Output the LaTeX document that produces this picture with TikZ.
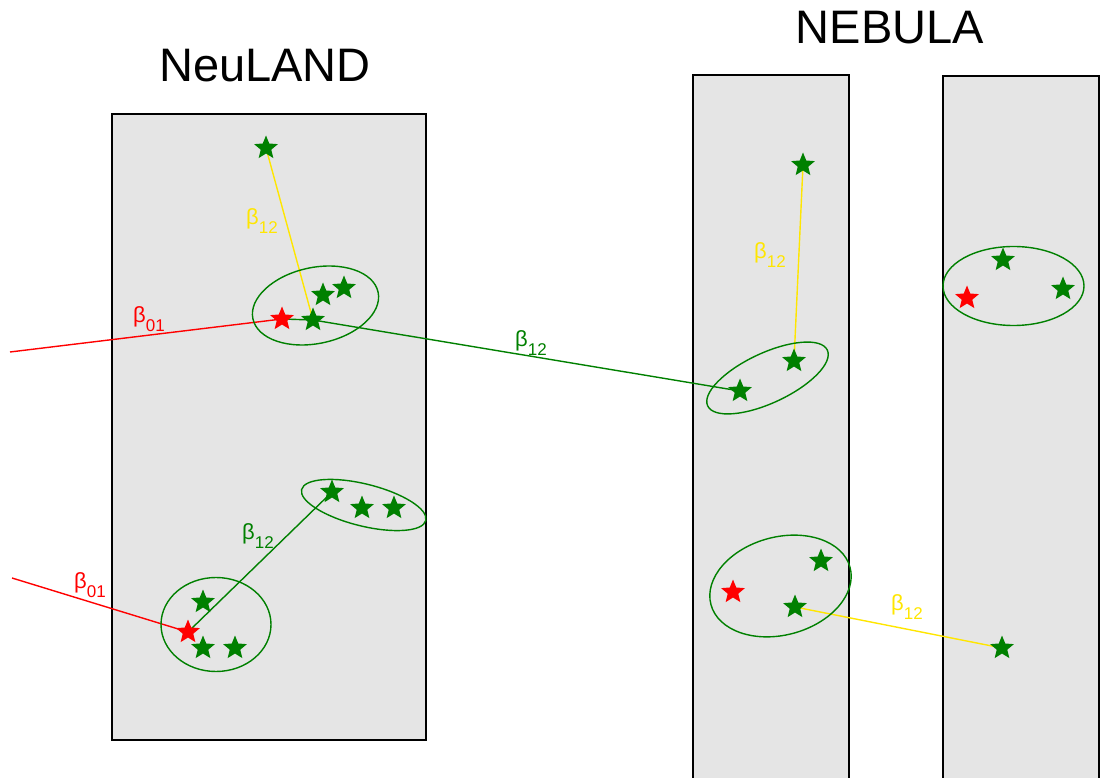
\documentclass[tikz,border=0pt]{standalone}
\usepackage{fontspec}
\setmainfont{Liberation Sans}
\usetikzlibrary{shapes.geometric}
\definecolor{dgreen}{RGB}{0,128,0}
\definecolor{ylw}{RGB}{255,230,0}
\definecolor{boxgray}{RGB}{229,229,229}
\pgfdeclarelayer{bg}
\pgfdeclarelayer{lines}
\pgfsetlayers{bg,lines,main}
\newcommand\bet[1]{\fontsize{22}{22}\selectfont β\raisebox{-8.5pt}{\fontsize{17}{17}\selectfont #1}}
\tikzset{
  detbox/.style={draw=black, line width=1.1pt, fill=boxgray},
  gstar/.style={star, star points=5, star point ratio=2.25, minimum size=25pt, inner sep=0pt, fill=dgreen, draw=none},
  rstar/.style={gstar, fill=red},
  clus/.style={draw=dgreen, line width=1.4pt},
  trk/.style={line width=1.4pt},
  lbl/.style={inner sep=0pt, anchor=center},
  title/.style={font=\fontsize{47}{47}\selectfont, inner sep=0pt, anchor=base}
}
\begin{document}
\begin{tikzpicture}[x=1pt,y=1pt]
\useasboundingbox (0,0) rectangle (1105,777);
\clip (0,0) rectangle (1105,777);
% boxes
\begin{pgfonlayer}{bg}
\path[detbox] (112,37) rectangle (426,663);
\path[detbox] (693,-5) rectangle (849,702);
\path[detbox] (943,-5) rectangle (1099,701);
\end{pgfonlayer}
% titles
\node[title] (tneu) at (265,695) {NeuLAND};
\node[title] (tneb) at (890,733) {NEBULA};
% stars
\node[gstar] (s1) at (266,629) {};
\node[rstar] (r1) at (282,458) {};
\node[gstar] (g1) at (313,457) {};
\node[gstar] (g2) at (323,482) {};
\node[gstar] (g3) at (344,489) {};
\node[rstar] (r2) at (188,145) {};
\node[gstar] (g4) at (203,175) {};
\node[gstar] (g5) at (203,129) {};
\node[gstar] (g6) at (235,129) {};
\node[gstar] (g7) at (332,285) {};
\node[gstar] (g8) at (362,269) {};
\node[gstar] (g9) at (394,269) {};
\node[gstar] (n1) at (803,612) {};
\node[gstar] (n2) at (794,416) {};
\node[gstar] (n3) at (740,386) {};
\node[rstar] (r3) at (733,185) {};
\node[gstar] (n4) at (821,216) {};
\node[gstar] (n5) at (795,170) {};
\node[gstar] (n6) at (1002,129) {};
\node[rstar] (r4) at (967,479) {};
\node[gstar] (n7) at (1003,517) {};
\node[gstar] (n8) at (1063,488) {};
% clusters
\draw[clus, rotate around={12:(315.5,471.5)}] (315.5,471.5) ellipse (64 and 38);
\draw[clus] (216,152.5) ellipse (55 and 47);
\draw[clus, rotate around={-14:(363.7,272)}] (363.7,272) ellipse (64 and 21);
\draw[clus, rotate around={25:(767.5,399)}] (767.5,399) ellipse (66 and 25);
\draw[clus, rotate around={15:(780.5,191)}] (780.5,191) ellipse (72 and 49);
\draw[clus] (1013.5,491) ellipse (70.5 and 39.5);
% tracks
\coordinate (in1) at (10,425);
\coordinate (in2) at (12,199);
\begin{pgfonlayer}{lines}
\draw[trk, red] (in1) -- (r1.center);
\draw[trk, red] (in2) -- (r2.center);
\draw[trk, dgreen] (r1.center) -- (g1.center) -- (n3.center);
\draw[trk, dgreen] (r2.center) -- (g7.center);
\draw[trk, ylw] (s1.center) -- (g1.center);
\draw[trk, ylw] (n1.center) -- (n2.center);
\draw[trk, ylw] (n5.center) -- (n6.center);
\end{pgfonlayer}
% labels
\node[lbl, red] (l1) at (149,458) {\bet{01}};
\node[lbl, ylw] (l2) at (262,556) {\bet{12}};
\node[lbl, dgreen] (l3) at (531,434) {\bet{12}};
\node[lbl, red] (l4) at (90,192) {\bet{01}};
\node[lbl, dgreen] (l5) at (258,241) {\bet{12}};
\node[lbl, ylw] (l6) at (770,522) {\bet{12}};
\node[lbl, ylw] (l7) at (907,170) {\bet{12}};
\end{tikzpicture}
\end{document}
